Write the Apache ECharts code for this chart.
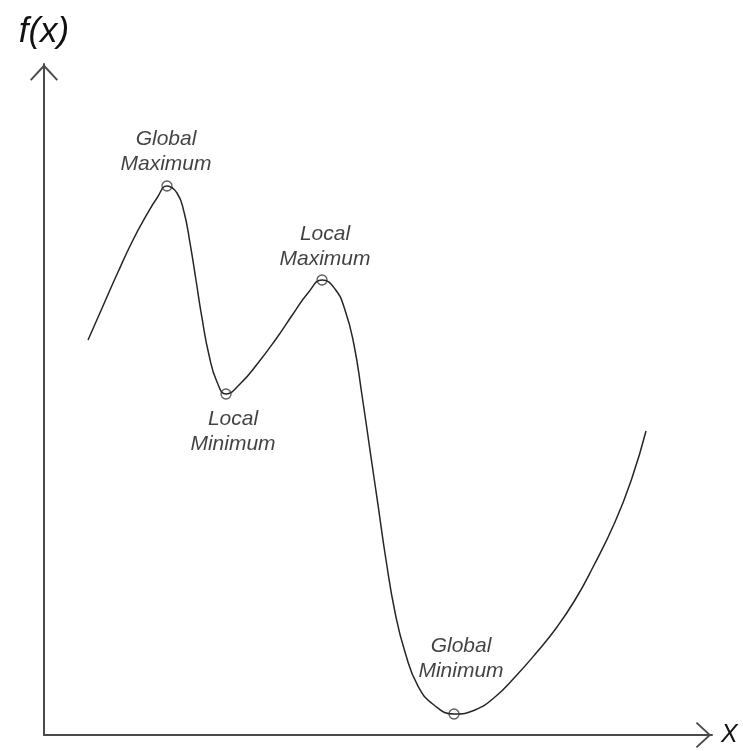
<!DOCTYPE html>
<html>
<head>
<meta charset="utf-8">
<title>f(x)</title>
<script src="https://cdn.jsdelivr.net/npm/echarts@6/dist/echarts.min.js"></script>
<style>
  html, body { margin: 0; padding: 0; background: #ffffff; }
  #chart { width: 743px; height: 751px; }
</style>
</head>
<body>
<div id="chart"></div>
<script>
// Curve f(x): sampled points along the function
const curveX = [0.659, 0.883, 1.108, 1.332, 1.527, 1.692, 1.841, 1.991, 2.096, 2.186, 2.275,
                2.365, 2.470, 2.590, 2.725, 2.934, 3.204, 3.473, 3.728, 3.952, 4.162, 4.356,
                4.506, 4.641, 4.760, 4.880, 5.000, 5.120, 5.254, 5.404, 5.599, 5.838, 6.138,
                6.452, 6.751, 7.051, 7.380, 7.680, 7.949, 8.204, 8.548, 8.802, 9.012];
const curveY = [5.887, 6.393, 6.900, 7.377, 7.735, 8.003, 8.182, 8.077, 7.794, 7.332, 6.781,
                6.215, 5.663, 5.261, 5.082, 5.231, 5.544, 5.902, 6.274, 6.587, 6.781, 6.647,
                6.334, 5.812, 5.067, 4.247, 3.428, 2.608, 1.833, 1.237, 0.730, 0.447, 0.313,
                0.373, 0.566, 0.864, 1.237, 1.610, 2.012, 2.474, 3.174, 3.830, 4.531];

// Stationary points and their names
const extremaX = [1.841, 2.725, 4.162, 6.138];
const extremaY = [8.182, 5.082, 6.781, 0.313];
const extremaNames = ['Global\nMaximum', 'Local\nMinimum', 'Local\nMaximum', 'Global\nMinimum'];

const font = "'Liberation Sans', Arial, sans-serif";
const axisColor = '#4a4a4a';

// Open chevron arrow head (pointing up; rotated by the axis)
const chevron = 'path://M14,0 L28,15.2 L26.6,16.6 L14,3 L1.4,16.6 L0,15.2 Z';

const labelPlacement = [
  { position: 'top', distance: 4, offset: [-1, 0] },
  { position: 'bottom', distance: 7, offset: [7, 0] },
  { position: 'top', distance: 3, offset: [3, 0] },
  { position: 'top', distance: 25, offset: [7, 0] }
];

const chart = echarts.init(document.getElementById('chart'), null, { renderer: 'canvas' });

chart.setOption({
  backgroundColor: '#ffffff',
  animation: false,
  grid: { left: 44, right: 31, top: 64, bottom: 16, containLabel: false },
  xAxis: {
    type: 'value',
    min: 0,
    max: 10,
    name: 'X',
    nameLocation: 'end',
    nameGap: 9,
    nameTextStyle: { fontFamily: font, fontSize: 25, fontStyle: 'italic', color: '#111', verticalAlign: 'middle', padding: [10, 0, 0, 0] },
    axisLine: {
      show: true,
      symbol: ['none', chevron],
      symbolSize: [26, 17],
      symbolOffset: [0, -8.5],
      lineStyle: { color: axisColor, width: 2 }
    },
    axisTick: { show: false },
    axisLabel: { show: false },
    splitLine: { show: false }
  },
  yAxis: {
    type: 'value',
    min: 0,
    max: 10,
    name: 'f(x)',
    nameLocation: 'end',
    nameGap: 14,
    nameTextStyle: { fontFamily: font, fontSize: 35, fontStyle: 'italic', color: '#111', align: 'center', padding: [0, 0, 0, 0] },
    axisLine: {
      show: true,
      symbol: ['none', chevron],
      symbolSize: [28, 17],
      symbolOffset: [0, -8.5],
      lineStyle: { color: axisColor, width: 2 }
    },
    axisTick: { show: false },
    axisLabel: { show: false },
    splitLine: { show: false }
  },
  series: [
    {
      type: 'line',
      data: curveX.map((x, i) => [x, curveY[i]]),
      smooth: 0.5,
      symbol: 'none',
      lineStyle: { color: '#262626', width: 1.5 },
      z: 2
    },
    {
      type: 'scatter',
      data: extremaX.map((x, i) => ({
        value: [x, extremaY[i]],
        label: {
          show: true,
          formatter: extremaNames[i],
          position: labelPlacement[i].position,
          distance: labelPlacement[i].distance,
          offset: labelPlacement[i].offset
        }
      })),
      symbol: 'circle',
      symbolSize: 10,
      itemStyle: { color: 'rgba(255,255,255,0)', borderColor: '#333', borderWidth: 1.3 },
      label: {
        fontFamily: font,
        fontStyle: 'italic',
        fontSize: 21,
        lineHeight: 25,
        color: '#111111',
        align: 'center'
      },
      z: 3
    }
  ]
});
</script>
</body>
</html>
